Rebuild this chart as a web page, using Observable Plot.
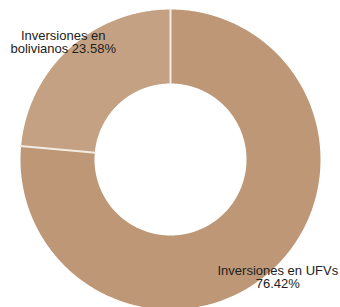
<!DOCTYPE html>
<html>
<head>
<meta charset="utf-8">
<script src="https://cdn.jsdelivr.net/npm/d3@7"></script>
<script src="https://cdn.jsdelivr.net/npm/@observablehq/plot@0.6"></script>
<style>
  html, body { margin: 0; padding: 0; background: #fff; }
  #chart svg { display: block; }
</style>
</head>
<body>
<div id="chart"></div>
<script>
// Data
const categories = ["Inversiones en UFVs", "Inversiones en bolivianos"];
const shares = [76.42, 23.58];
const labels = ["Inversiones en UFVs\n76.42%", "Inversiones en\nbolivianos 23.58%"];
const colors = ["#bd9776", "#c4a182"];

const W = 340, H = 307;
const outerR = 150, innerR = 76, labelR = 159;

const table = categories.map((c, i) => ({category: c, share: shares[i], label: labels[i]}));
const arcs = d3.pie().sort(null).value(d => d.share)(table);

// polar helper: angle clockwise from 12 o'clock
const px = (a, r) => Math.sin(a) * r;
const py = (a, r) => Math.cos(a) * r;

// ring slice outlines
const ringPts = [];
for (const arc of arcs) {
  const n = Math.max(2, Math.ceil((arc.endAngle - arc.startAngle) / (Math.PI / 360)));
  for (let k = 0; k <= n; k++) {
    const a = arc.startAngle + (arc.endAngle - arc.startAngle) * k / n;
    ringPts.push({category: arc.data.category, x: px(a, outerR), y: py(a, outerR)});
  }
  for (let k = n; k >= 0; k--) {
    const a = arc.startAngle + (arc.endAngle - arc.startAngle) * k / n;
    ringPts.push({category: arc.data.category, x: px(a, innerR), y: py(a, innerR)});
  }
}

const seps = arcs.map(arc => ({
  x1: px(arc.startAngle, innerR - 1), y1: py(arc.startAngle, innerR - 1),
  x2: px(arc.startAngle, outerR + 1), y2: py(arc.startAngle, outerR + 1)
}));

const labelPts = arcs.map(arc => {
  const m = (arc.startAngle + arc.endAngle) / 2;
  return {label: arc.data.label, x: px(m, labelR), y: py(m, labelR)};
});

const chart = Plot.plot({
  width: W,
  height: H,
  margin: 0,
  style: {background: "#fff", fontFamily: "'Liberation Sans', Arial, sans-serif"},
  x: {domain: [-170, 170], axis: null},
  y: {domain: [-148, 159], axis: null},
  color: {domain: categories, range: colors},
  marks: [
    Plot.line(ringPts, {x: "x", y: "y", z: "category", fill: "category", stroke: "none", curve: "linear-closed"}),
    Plot.link(seps, {x1: "x1", y1: "y1", x2: "x2", y2: "y2", stroke: "#f3ece5", strokeWidth: 2}),
    Plot.text(labelPts, {x: "x", y: "y", text: "label", fontSize: 13, fill: "#222", textAnchor: "middle", lineAnchor: "middle", lineHeight: 1})
  ]
});

document.getElementById("chart").appendChild(chart);
</script>
</body>
</html>
